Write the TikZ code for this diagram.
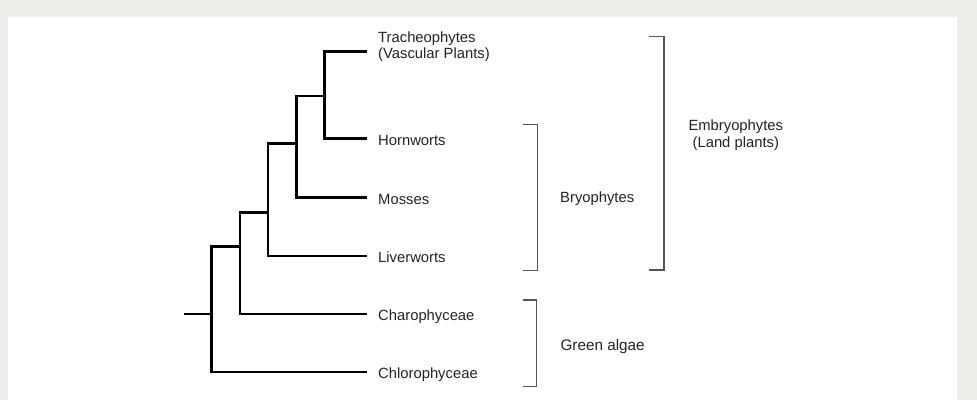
\documentclass[tikz,border=0pt]{standalone}
\usepackage{fontspec}
\setmainfont{Liberation Sans}
\definecolor{pagegray}{RGB}{237,237,233}
\definecolor{txt}{RGB}{35,35,35}
\definecolor{brk}{RGB}{85,85,85}
\begin{document}
\begin{tikzpicture}[x=1pt,y=-1pt,
  branch/.style={draw=black,line width=2.9pt,line join=miter},
  bracket/.style={draw=brk,line width=1.3pt},
  leaf/.style={anchor=base west,inner sep=0pt,text=txt,font=\fontsize{14.8}{16}\selectfont},
  grp/.style={anchor=base west,inner sep=0pt,text=txt,font=\fontsize{14.8}{16}\selectfont}]
\useasboundingbox (0,0) rectangle (977,400);
\fill[pagegray] (0,0) rectangle (977,400);
\fill[white] (8,17) rectangle (957,400);
% internal nodes of the tree
\coordinate (stub) at (184,314);
\coordinate (r) at (211.5,314);
\coordinate (n2) at (240,246.7);
\coordinate (n3) at (268,212.3);
\coordinate (n4) at (296.7,143.3);
\coordinate (n5) at (324.5,96);
% leaf tips
\coordinate (tTrach) at (367,51.7);
\coordinate (tHorn) at (367,138.3);
\coordinate (tMoss) at (367,197.5);
\coordinate (tLiver) at (367,256);
\coordinate (tCharo) at (367,314);
\coordinate (tChloro) at (367,372);
% branches
\draw[branch] (stub) -- (r);
\draw[branch] (r) |- (n2);
\draw[branch] (r) |- (tChloro);
\draw[branch] (n2) |- (n3);
\draw[branch] (n2) |- (tCharo);
\draw[branch] (n3) |- (n4);
\draw[branch] (n3) |- (tLiver);
\draw[branch] (n4) |- (n5);
\draw[branch] (n4) |- (tMoss);
\draw[branch] (n5) |- (tTrach);
\draw[branch] (n5) |- (tHorn);
% leaf labels
\node[leaf] (trach) at (378,42.3) {\begin{tabular}[t]{@{}l@{}}Tracheophytes\\(Vascular Plants)\end{tabular}};
\node[leaf] (horn) at (378,145) {Hornworts};
\node[leaf] (moss) at (378,204.3) {Mosses};
\node[leaf] (liver) at (378,262.8) {Liverworts};
\node[leaf] (charo) at (378,320.8) {Charophyceae};
\node[leaf] (chloro) at (378,378.8) {Chlorophyceae};
% brackets
\draw[bracket] (522.7,124.7) -- (537.3,124.7) -- (537.3,270.3) -- (522.7,270.3);
\draw[bracket] (649.3,36.7) -- (664,36.7) -- (664,270) -- (649.3,270);
\draw[bracket] (522.7,300) -- (536.7,300) -- (536.7,386.7) -- (522.7,386.7);
% group labels
\node[grp] (bryo) at (560,202.8) {Bryophytes};
\node[grp,anchor=base] (embryo) at (735.8,130.7) {\fontsize{14.8}{16.6}\selectfont\begin{tabular}[t]{@{}c@{}}Embryophytes\\(Land plants)\end{tabular}};
\node[grp,font=\fontsize{15.3}{17}\selectfont] (green) at (560.3,350.5) {Green algae};
\end{tikzpicture}
\end{document}
